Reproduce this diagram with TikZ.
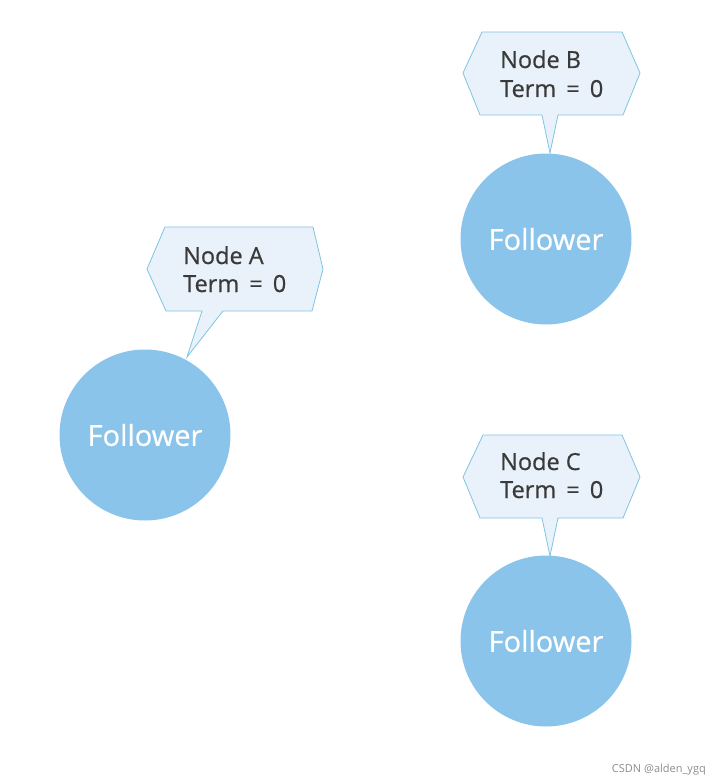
\documentclass[tikz,border=0pt]{standalone}
\usepackage{fontspec}
\setmainfont{Open Sans}
\newfontfamily\boldish{Open Sans}[FakeBold=0.6]
\newfontfamily\wmfont{Open Sans}
\definecolor{circfill}{HTML}{8BC4EA}
\definecolor{callfill}{HTML}{E9F2FA}
\definecolor{calldraw}{HTML}{7FC4E2}
\definecolor{txt}{HTML}{3A3A3A}
\newcommand{\eqsp}{\hspace{4pt}}
\begin{document}
\begin{tikzpicture}[x=1pt,y=-1pt,
  follower/.style={circle,fill=circfill,draw=none,minimum size=171pt,inner sep=0pt,
    text=white,font=\boldish\fontsize{29}{32}\selectfont},
  callout/.style={fill=callfill,draw=calldraw,line width=0.8pt,line join=miter},
  ctext/.style={anchor=base west,inner sep=0pt,text=txt,font=\boldish\fontsize{23.5}{26}\selectfont},
  wm/.style={anchor=base east,inner sep=0pt,text=black!45,font=\wmfont\fontsize{11}{13}\selectfont}]
\useasboundingbox (0,0) rectangle (720,781);
% Node A
\node[follower] (fa) at (145,435) {Follower};
\draw[callout] (165,227) -- (313,227) -- (323,269) -- (312,311) -- (223,311) -- (187,357) -- (202,311) -- (166,311) -- (147,269) -- cycle;
\node[ctext] (na) at (183,264) {Node A};
\node[ctext] (ta) at (183,292) {Term \eqsp= \eqsp 0};
% Node B
\node[follower] (fb) at (546,239) {Follower};
\draw[callout] (482,32) -- (622,32) -- (640,73) -- (623,115) -- (558,115) -- (550,153) -- (542,115) -- (480,115) -- (463,73) -- cycle;
\node[ctext] (nb) at (500,68) {Node B};
\node[ctext] (tb) at (500,97) {Term \eqsp= \eqsp 0};
% Node C
\node[follower] (fc) at (546,641) {Follower};
\draw[callout] (483,435) -- (622,435) -- (640,477) -- (623,518) -- (558,518) -- (550,556) -- (542,518) -- (480,518) -- (463,477) -- cycle;
\node[ctext] (nc) at (500,470) {Node C};
\node[ctext] (tc) at (500,498) {Term \eqsp= \eqsp 0};
% watermark
\node[wm] (w) at (706,772) {CSDN @alden\_ygq};
\end{tikzpicture}
\end{document}
